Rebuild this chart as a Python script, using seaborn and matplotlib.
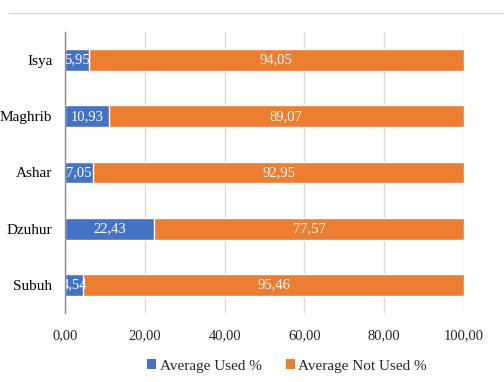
import matplotlib
matplotlib.use("Agg")
import matplotlib.pyplot as plt
import seaborn as sns
import pandas as pd
from matplotlib.patches import Patch
from matplotlib.lines import Line2D

prayers = ["Isya", "Maghrib", "Ashar", "Dzuhur", "Subuh"]
used = [5.95, 10.93, 7.05, 22.43, 4.54]
not_used = [94.05, 89.07, 92.95, 77.57, 95.46]
x_ticks = [0, 20, 40, 60, 80, 100]

BLUE = "#4472C4"
ORANGE = "#ED7D31"
GRID = "#D9D9D9"

sns.set_theme(style="white")
plt.rcParams["font.family"] = ["Liberation Serif", "DejaVu Serif"]

df = pd.DataFrame({"prayer": prayers, "used": used, "not_used": not_used})
df["total"] = df["used"] + df["not_used"]

fig = plt.figure(figsize=(5.04, 3.82), dpi=100)
ax = fig.add_axes([65 / 504, 1 - 313 / 382, (464 - 65) / 504, (313 - 32) / 382])

# full-width bar (used + not used) first, then the used share on top of it
sns.barplot(data=df, y="prayer", x="total", color=ORANGE, orient="h",
            width=0.39, saturation=1, ax=ax, zorder=2)
sns.barplot(data=df, y="prayer", x="used", color=BLUE, orient="h",
            width=0.39, saturation=1, ax=ax, zorder=3)

def fmt(v):
    return f"{v:.2f}".replace(".", ",")

for i, (u, n) in enumerate(zip(used, not_used)):
    ax.text(u / 2, i, fmt(u), ha="center", va="center", color="white",
            fontsize=10.5, zorder=4)
    ax.text(u + n / 2, i, fmt(n), ha="center", va="center", color="white",
            fontsize=10.5, zorder=4)

ax.set_xlim(0, 100)
ax.set_ylim(4.5, -0.5)
ax.set_xticks(x_ticks)
ax.set_xticklabels([fmt(t) for t in x_ticks], fontsize=10.5, color="#262626")
ax.set_yticks(range(len(prayers)))
ax.set_yticklabels(prayers, fontsize=11, color="#000000")
ax.set_xlabel("")
ax.set_ylabel("")
ax.tick_params(axis="x", length=0, pad=12)
ax.tick_params(axis="y", length=0, pad=9)
ax.grid(axis="x", color=GRID, linewidth=1, zorder=0)
ax.set_axisbelow(True)
for side in ["top", "right", "bottom"]:
    ax.spines[side].set_visible(False)
ax.spines["left"].set_color("#8C8C8C")
ax.spines["left"].set_linewidth(1)
ax.spines["left"].set_zorder(5)

# thin rule across the top of the figure
fig.add_artist(Line2D([9 / 504, 1], [1 - 13 / 382, 1 - 13 / 382],
                      color=GRID, linewidth=1))

handles = [Patch(facecolor=BLUE, edgecolor="none", label="Average Used %"),
           Patch(facecolor=ORANGE, edgecolor="none", label="Average Not Used %")]
fig.legend(handles=handles, loc="center", bbox_to_anchor=(287 / 504, 1 - 366 / 382),
           ncol=2, frameon=False, fontsize=11, handlelength=0.6, handleheight=0.6,
           handletextpad=0.2, columnspacing=1.6, labelcolor="#262626")

fig.savefig("out.png", dpi=100)
